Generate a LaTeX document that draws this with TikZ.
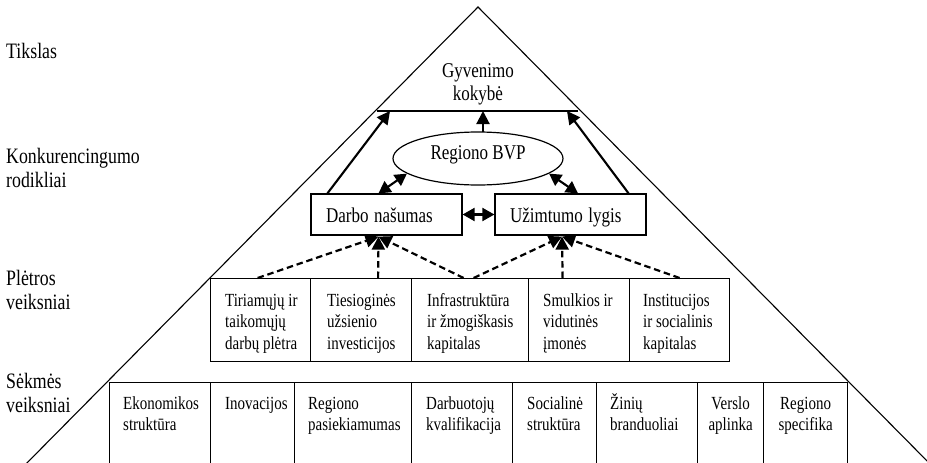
\documentclass[tikz,border=0pt]{standalone}
\usepackage{graphicx}
\usepackage{fontspec}
\setmainfont{Liberation Serif}
\usetikzlibrary{shapes.geometric,arrows.meta,calc}
% invisible strut: fixes the distance from a node's top to its first baseline
\newcommand\lnstrut{\rule{0pt}{0.95em}}
% narrow setting of a line of text
\newcommand\nw[1]{\scalebox{0.81}[1]{#1}}
\begin{document}
\begin{tikzpicture}[x=1pt,y=-1pt,
  side/.style={line width=1.1pt},
  cell/.style={draw, line width=1.2pt, anchor=north west, inner sep=0pt},
  rowlbl/.style={font=\fontsize{22}{24}\selectfont, align=left, anchor=north west, inner sep=0pt},
  boxtxt/.style={font=\fontsize{18.5}{21.5}\selectfont, align=left, anchor=north west, inner sep=0pt},
  boxtxtc/.style={font=\fontsize{18.5}{21.5}\selectfont, align=center, anchor=north, inner sep=0pt},
  kpi/.style={draw, line width=1.2pt, font=\fontsize{21}{23}\selectfont, minimum height=41pt,
    text width=121pt, inner xsep=15pt, inner ysep=0pt, align=left, text height=16pt, text depth=0pt},
  arr/.style={line width=2.1pt, -{Triangle[length=13pt,width=13pt]}},
  darr/.style={line width=2.1pt, {Triangle[length=12pt,width=13pt]}-{Triangle[length=12pt,width=13pt]}},
  dasharr/.style={line width=2.2pt, dash pattern=on 6.5pt off 3.8pt, -{Triangle[length=13pt,width=13pt]}}
]
\useasboundingbox (0,0) rectangle (927,463);
\fill[white] (0,0) rectangle (927,463);
\clip (0,0) rectangle (927,463);

% pyramid outline
\coordinate (apex) at (478,7);
\coordinate (bl) at (20,470);
\coordinate (br) at (936,470);
\draw[side] (bl) -- (apex) -- (br);

% goal level
\coordinate (topL) at (377,111);
\coordinate (topR) at (578,111);
\draw[line width=1.6pt] (topL) -- (topR);
\node[font=\fontsize{21}{23}\selectfont, align=center, anchor=north, inner sep=0pt] (goal)
  at (478,57) {\lnstrut\nw{Gyvenimo}\\\nw{kokybė}};
\coordinate (gL) at (390,111);
\coordinate (gM) at (483,111);
\coordinate (gR) at (567,111);

% competitiveness indicators
\node[draw, ellipse, line width=1.2pt, minimum width=170pt, minimum height=53pt, inner sep=0pt,
  font=\fontsize{21}{23}\selectfont, text height=7pt, text depth=6pt] (bvp) at (478,158.5) {\nw{Regiono BVP}};
\node[kpi] (dn) at (386.5,214.5) {\nw{Darbo našumas}};
\node[kpi] (ul) at (570.5,214.5) {\nw{Užimtumo lygis}};

\draw[arr] ($(dn.north west)+(17,0)$) -- (gL);
\draw[arr] ($(ul.north east)+(-18,0)$) -- (gR);
\draw[arr] ($(bvp.north)+(5,1)$) -- (gM);
\draw[darr] ($(dn.north)+(-8,0)$) -- (bvp.192);
\draw[darr] ($(ul.north)+(7.5,0)$) -- (bvp.348);
\draw[darr] (dn.east) -- (ul.west);

% development factors
\node[cell, minimum width=100pt, minimum height=83pt] (p1) at (210,278) {};
\node[cell, minimum width=101pt, minimum height=83pt] (p2) at (310,278) {};
\node[cell, minimum width=117pt, minimum height=83pt] (p3) at (411,278) {};
\node[cell, minimum width=101pt, minimum height=83pt] (p4) at (528,278) {};
\node[cell, minimum width=100pt, minimum height=83pt] (p5) at (629,278) {};
\node[boxtxt] (p1t) at ($(p1.north west)+(15,10.4)$) {\lnstrut\nw{Tiriamųjų ir}\\\nw{taikomųjų}\\\nw{darbų plėtra}};
\node[boxtxt] (p2t) at ($(p2.north west)+(17,10.4)$) {\lnstrut\nw{Tiesioginės}\\\nw{užsienio}\\\nw{investicijos}};
\node[boxtxt] (p3t) at ($(p3.north west)+(16,10.4)$) {\lnstrut\nw{Infrastruktūra}\\\nw{ir žmogiškasis}\\\nw{kapitalas}};
\node[boxtxt] (p4t) at ($(p4.north west)+(15,10.4)$) {\lnstrut\nw{Smulkios ir}\\\nw{vidutinės}\\\nw{įmonės}};
\node[boxtxt] (p5t) at ($(p5.north west)+(14,10.4)$) {\lnstrut\nw{Institucijos}\\\nw{ir socialinis}\\\nw{kapitalas}};

\coordinate (dnIn) at ($(dn.south)+(-8,1)$);
\coordinate (ulIn) at ($(ul.south)+(-8.5,1)$);
\draw[dasharr] ($(p1.north)+(-3,0)$) -- (dnIn);
\draw[dasharr] ($(p2.north)+(17,0)$) -- (dnIn);
\draw[dasharr] ($(p3.north)+(-6.5,0)$) -- (dnIn);
\draw[dasharr] ($(p3.north)+(3.5,0)$) -- (ulIn);
\draw[dasharr] ($(p4.north)+(-16.5,0)$) -- (ulIn);
\draw[dasharr] (p5.north) -- (ulIn);

% success factors
\node[cell, minimum width=101pt, minimum height=100pt] (s1) at (109,382) {};
\node[cell, minimum width=84pt, minimum height=100pt] (s2) at (210,382) {};
\node[cell, minimum width=117pt, minimum height=100pt] (s3) at (294,382) {};
\node[cell, minimum width=101pt, minimum height=100pt] (s4) at (411,382) {};
\node[cell, minimum width=84pt, minimum height=100pt] (s5) at (512,382) {};
\node[cell, minimum width=101pt, minimum height=100pt] (s6) at (596,382) {};
\node[cell, minimum width=66pt, minimum height=100pt] (s7) at (697,382) {};
\node[cell, minimum width=84pt, minimum height=100pt] (s8) at (763,382) {};
\node[boxtxt] (s1t) at ($(s1.north west)+(14,9.4)$) {\lnstrut\nw{Ekonomikos}\\\nw{struktūra}};
\node[boxtxt] (s2t) at ($(s2.north west)+(15,9.4)$) {\lnstrut\nw{Inovacijos}};
\node[boxtxt] (s3t) at ($(s3.north west)+(14,9.4)$) {\lnstrut\nw{Regiono}\\\nw{pasiekiamumas}};
\node[boxtxt] (s4t) at ($(s4.north west)+(15,9.4)$) {\lnstrut\nw{Darbuotojų}\\\nw{kvalifikacija}};
\node[boxtxt] (s5t) at ($(s5.north west)+(15,9.4)$) {\lnstrut\nw{Socialinė}\\\nw{struktūra}};
\node[boxtxt] (s6t) at ($(s6.north west)+(14,9.4)$) {\lnstrut\nw{Žinių}\\\nw{branduoliai}};
\node[boxtxtc] (s7t) at ($(s7.north)+(0,9.4)$) {\lnstrut\nw{Verslo}\\\nw{aplinka}};
\node[boxtxtc] (s8t) at ($(s8.north)+(0,9.4)$) {\lnstrut\nw{Regiono}\\\nw{specifika}};

% level captions
\node[rowlbl] (l1) at (6,37.1) {\lnstrut\nw{Tikslas}};
\node[rowlbl] (l2) at (6,142.1) {\lnstrut\nw{Konkurencingumo}\\\nw{rodikliai}};
\node[rowlbl] (l3) at (6,264.1) {\lnstrut\nw{Plėtros}\\\nw{veiksniai}};
\node[rowlbl] (l4) at (6,367.1) {\lnstrut\nw{Sėkmės}\\\nw{veiksniai}};
\end{tikzpicture}
\end{document}
